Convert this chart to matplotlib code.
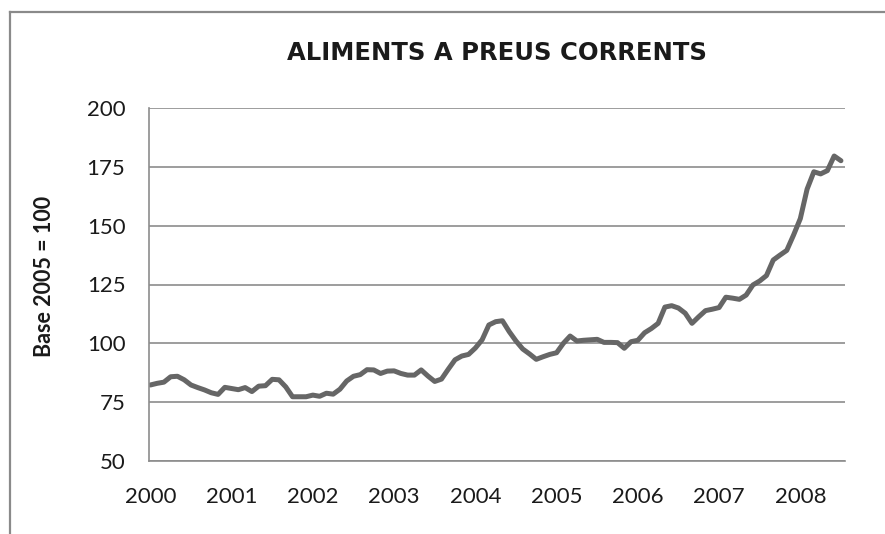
import matplotlib
matplotlib.use("Agg")
import matplotlib.pyplot as plt
from matplotlib.lines import Line2D

title = "ALIMENTS A PREUS CORRENTS"
ylabel = "Base 2005 = 100"
year_labels = ["2000", "2001", "2002", "2003", "2004", "2005", "2006", "2007", "2008"]
y_ticks = [50, 75, 100, 125, 150, 175, 200]

# Monthly index, Jan 2000 .. Jul 2008 (base 2005 = 100)
values = [
    82.3, 83.0, 83.5, 85.8, 86.0, 84.5, 82.3, 81.2, 80.2, 79.0, 78.3, 81.3,   # 2000
    80.8, 80.3, 81.2, 79.5, 81.8, 82.0, 84.7, 84.5, 81.5, 77.3, 77.3, 77.3,   # 2001
    78.0, 77.5, 78.8, 78.4, 80.5, 84.0, 86.0, 86.7, 88.8, 88.7, 87.2, 88.2,   # 2002
    88.3, 87.2, 86.5, 86.5, 88.7, 86.1, 83.8, 84.8, 89.0, 93.0, 94.6, 95.3,   # 2003
    98.0, 101.5, 107.8, 109.2, 109.6, 105.0, 101.0, 97.6, 95.5, 93.2, 94.3, 95.3,  # 2004
    96.0, 100.0, 103.1, 101.0, 101.3, 101.5, 101.7, 100.4, 100.4, 100.3, 97.9, 100.7,  # 2005
    101.3, 104.5, 106.3, 108.5, 115.4, 116.0, 115.0, 112.8, 108.5, 111.3, 113.9, 114.5,  # 2006
    115.2, 119.6, 119.2, 118.7, 120.5, 124.8, 126.5, 128.8, 135.4, 137.5, 139.5, 146.0,  # 2007
    153.0, 165.5, 172.9, 172.0, 173.4, 179.6, 177.6,  # 2008
]
months = list(range(len(values)))
year_pos = [12 * i for i in range(len(year_labels))]

W, H = 885, 534
fig = plt.figure(figsize=(W / 100, H / 100), dpi=100)
fig.patch.set_facecolor("white")

# outer chart border (only left and top visible)
bx, by = 9.5 / W, 1 - 11.5 / H
fig.add_artist(Line2D([bx, bx], [0, by], transform=fig.transFigure, color="#8a8a8a", lw=1.6))
fig.add_artist(Line2D([bx, 1], [by, by], transform=fig.transFigure, color="#8a8a8a", lw=1.6))

ax = fig.add_axes([149 / W, 1 - 461 / H, (845 - 149) / W, (461 - 108) / H])
ax.plot(months, values, color="#666666", lw=3.6, solid_joinstyle="round", solid_capstyle="round")

ax.set_ylim(50, 200)
ax.set_xlim(-0.2, 102.6)
ax.set_yticks(y_ticks)
ax.set_xticks(year_pos)
ax.set_xticklabels(year_labels)
ax.grid(axis="y", color="#8c8c8c", lw=1.2)
ax.set_axisbelow(True)
for s in ["top", "right"]:
    ax.spines[s].set_visible(False)
ax.spines["left"].set_color("#8c8c8c")
ax.spines["bottom"].set_color("#8c8c8c")
ax.spines["left"].set_linewidth(1.2)
ax.spines["bottom"].set_linewidth(1.2)
ax.tick_params(axis="both", length=0, labelsize=16, colors="#1a1a1a")
ax.tick_params(axis="y", pad=17)
ax.tick_params(axis="x", pad=19)
for lbl in ax.get_xticklabels() + ax.get_yticklabels():
    lbl.set_fontfamily("Lato")

fig.text(45 / W, 1 - 276 / H, ylabel, rotation=90, ha="center", va="center",
         fontsize=15.5, fontweight="bold", family="Lato", color="#1a1a1a")
fig.text(497 / W, 1 - 53 / H, title, ha="center", va="center",
         fontsize=17.5, fontweight="bold", family="DejaVu Sans", color="#1a1a1a")

fig.savefig("out.png", dpi=100, facecolor="white")
